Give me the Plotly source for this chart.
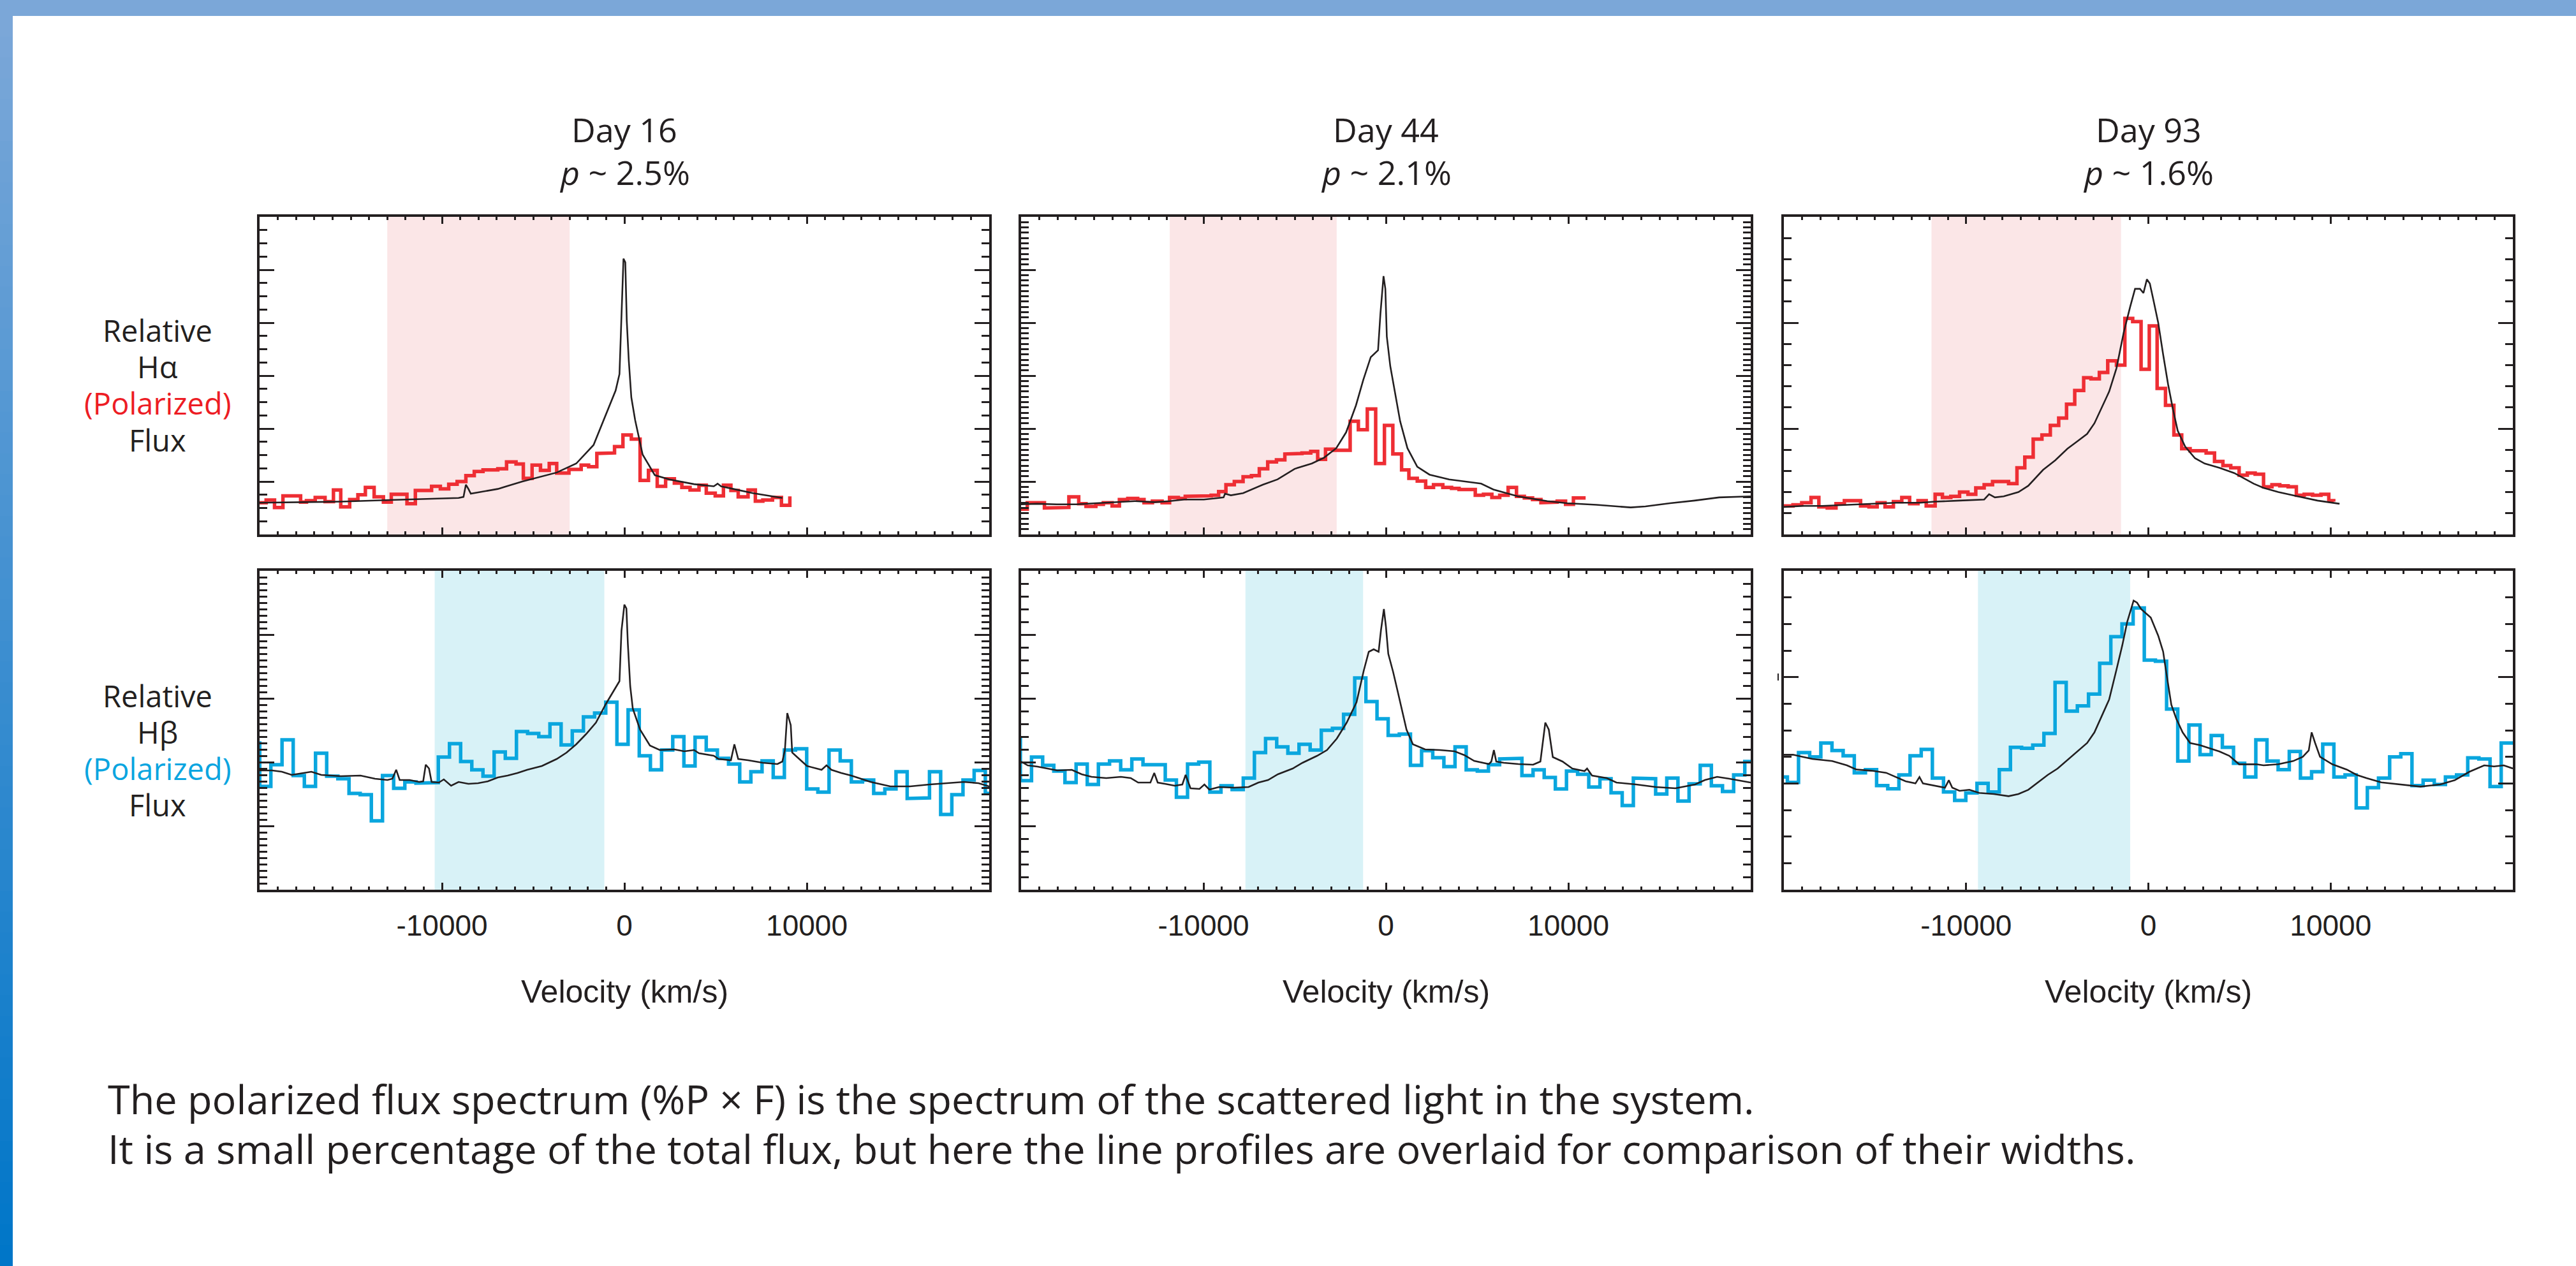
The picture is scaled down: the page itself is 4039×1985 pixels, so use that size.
import plotly.graph_objects as go

W, H = 4039, 1985


def px(x):
    return x / W


def py(y):
    return 1 - y / H


# =========================== DATA ===========================
day_labels = ["Day 16", "Day 44", "Day 93"]
pol_labels = ["2.5%", "2.1%", "1.6%"]
x_tickvals = [-20000, -10000, 0, 10000, 20000]
x_ticktext = ["", "-10000", "0", "10000", ""]

# shaded velocity windows (km/s)
ha_window = [(-13000, -3000), (-11850, -2700), (-11900, -1500)]
hb_window = [(-10400, -1100), (-7700, -1250), (-9350, -1000)]

# ---- Day 16, H-alpha total flux (black) ----
ha1_v = [-20000, -15550, -12860, -9090, -8820, -8690, -8550, -8420, -6940, -5600, -3710, -2640, -1690,
         -1020, -480, -270, -160, -50, 50, 130, 240, 380, 590, 1000, 1670, 2470, 3820, 4900, 5110,
         5300, 5970, 7050, 8660]
ha1_f = [0.60, 0.62, 0.65, 0.69, 0.71, 0.94, 0.86, 0.77, 0.86, 1.00, 1.17, 1.34, 1.69, 2.25, 2.72,
         3.03, 4.02, 5.21, 5.14, 4.04, 3.29, 2.59, 2.16, 1.51, 1.12, 1.04, 0.95, 0.91, 0.96, 0.91,
         0.86, 0.78, 0.69]
# ---- Day 16, H-alpha polarized flux (red, binned) ----
ha1_edges = [-20000, -19640, -19180, -18720, -17750, -17430, -16950, -16410, -15950, -15550, -15060,
             -14610, -14200, -13720, -13210, -12780, -11920, -11460, -10570, -10090, -9630, -9170,
             -8690, -8230, -7750, -6940, -6460, -5940, -5540, -5060, -4600, -4120, -3710, -3040,
             -2370, -1960, -1510, -1020, -540, -80, 380, 860, 1320, 1800, 2260, 2740, 3150, 3600,
             4090, 4490, 4980, 5430, 5840, 6240, 6780, 7180, 7590, 8120, 8610, 9070]
ha1_p = [0.60, 0.65, 0.51, 0.73, 0.61, 0.64, 0.70, 0.62, 0.84, 0.52, 0.66, 0.75, 0.89, 0.71, 0.61,
         0.76, 0.58, 0.83, 0.91, 0.86, 0.95, 1.00, 1.11, 1.19, 1.22, 1.24, 1.37, 1.33, 1.06, 1.31,
         1.21, 1.34, 1.16, 1.23, 1.31, 1.28, 1.53, 1.54, 1.66, 1.88, 1.80, 1.02, 1.21, 0.91, 1.05,
         0.97, 0.89, 0.84, 0.93, 0.78, 0.73, 0.93, 0.83, 0.71, 0.84, 0.63, 0.65, 0.70, 0.55]
ha1_pend = 0.72

# ---- Day 44, H-alpha ----
ha2_v = [-20000, -19130, -18050, -16970, -15900, -14820, -13750, -12670, -11860, -11060, -9980, -9170,
         -8900, -8820, -8500, -7830, -6750, -5940, -5000, -4060, -3390, -2720, -2180, -1640, -1240,
         -830, -430, -300, -130, -30, 50, 240, 510, 780, 1180, 1720, 2390, 3470, 4550, 5220, 5890,
         7240, 8850, 9930, 11540, 13420, 14230, 15580, 16920, 18270, 20000]
ha2_f = [0.57, 0.58, 0.57, 0.57, 0.59, 0.61, 0.63, 0.61, 0.63, 0.66, 0.66, 0.69, 0.70, 0.77, 0.74,
         0.78, 0.94, 1.04, 1.24, 1.34, 1.45, 1.63, 1.93, 2.44, 2.92, 3.35, 3.48, 4.17, 4.88, 4.64,
         3.74, 3.18, 2.66, 2.14, 1.63, 1.28, 1.13, 1.04, 0.99, 0.96, 0.85, 0.72, 0.63, 0.59, 0.56,
         0.51, 0.53, 0.59, 0.64, 0.70, 0.72]
ha2_edges = [-20000, -19660, -18720, -18180, -17380, -16840, -16440, -15900, -15490, -15010, -14610,
             -14150, -13610, -13260, -12800, -12270, -11860, -11380, -11000, -10520, -9580, -9170,
             -8770, -8310, -7830, -7370, -6940, -6480, -6000, -5540, -5060, -4600, -4120, -3740,
             -3310, -2850, -1960, -1510, -1020, -560, -80, 380, 860, 1260, 1720, 2180, 2610, 3120,
             3600, 4010, 4900, 5350, 5810, 6240, 6700, 7160, 7590, 8040, 8500, 8930, 9390, 9850,
             10280, 10950]
ha2_p = [0.48, 0.60, 0.50, 0.51, 0.71, 0.58, 0.53, 0.57, 0.60, 0.54, 0.66, 0.68, 0.66, 0.60, 0.63,
         0.60, 0.70, 0.68, 0.72, 0.73, 0.74, 0.81, 0.94, 1.00, 1.09, 1.11, 1.24, 1.37, 1.41, 1.52,
         1.53, 1.54, 1.57, 1.42, 1.61, 1.59, 2.14, 1.98, 2.37, 1.34, 2.06, 1.52, 1.22, 1.06, 1.01,
         0.89, 0.94, 0.89, 0.87, 0.85, 0.74, 0.76, 0.70, 0.74, 0.89, 0.72, 0.69, 0.66, 0.60, 0.61,
         0.63, 0.57, 0.69]
ha2_pend = 0.69

# ---- Day 93, H-alpha ----
ha3_v = [-20000, -18960, -17890, -16540, -15200, -13850, -12510, -11700, -10360, -9010, -8740, -8420,
         -7940, -7130, -6590, -5780, -5110, -4440, -3900, -3360, -2960, -2560, -2150, -1750, -1350,
         -1000, -730, -460, -270, -80, 80, 270, 540, 810, 1080, 1350, 1610, 2020, 2560, 3090, 3900,
         4710, 5250, 5780, 6320, 7130, 8200, 9280, 10490]
ha3_f = [0.26, 0.27, 0.27, 0.28, 0.29, 0.30, 0.30, 0.31, 0.32, 0.33, 0.38, 0.35, 0.36, 0.40, 0.46,
         0.61, 0.70, 0.81, 0.88, 0.95, 1.05, 1.20, 1.35, 1.57, 1.91, 2.15, 2.32, 2.32, 2.28, 2.41,
         2.37, 2.22, 2.00, 1.70, 1.42, 1.18, 0.98, 0.83, 0.72, 0.67, 0.63, 0.58, 0.53, 0.48, 0.44,
         0.40, 0.36, 0.32, 0.29]
ha3_edges = [-20000, -19500, -19020, -18510, -18080, -17620, -17140, -16680, -16220, -15790, -15330,
             -14880, -14450, -13990, -13530, -13100, -12640, -12190, -11700, -11300, -10840, -10360,
             -9900, -9470, -9010, -8550, -8120, -7670, -7210, -6780, -6320, -5840, -5380, -4920,
             -4490, -4040, -3550, -3150, -2690, -2230, -1750, -1290, -860, -400, 50, 480, 940, 1400,
             1830, 2290, 2740, 3170, 3630, 4090, 4520, 4980, 5430, 5860, 6320, 6780, 7210, 7670,
             8120, 8550, 9010, 9470, 9900, 10170]
ha3_p = [0.27, 0.28, 0.30, 0.35, 0.26, 0.25, 0.29, 0.32, 0.32, 0.27, 0.26, 0.30, 0.26, 0.31, 0.35,
         0.29, 0.32, 0.27, 0.38, 0.35, 0.36, 0.40, 0.38, 0.44, 0.47, 0.50, 0.50, 0.48, 0.63, 0.73,
         0.90, 0.94, 1.03, 1.10, 1.23, 1.36, 1.48, 1.47, 1.53, 1.64, 1.60, 2.04, 2.01, 1.56, 1.97,
         1.38, 1.22, 0.94, 0.81, 0.79, 0.79, 0.77, 0.69, 0.65, 0.63, 0.56, 0.58, 0.57, 0.45, 0.47,
         0.46, 0.45, 0.37, 0.38, 0.37, 0.38, 0.32]
ha3_pend = 0.31

# ---- Day 16, H-beta ----
hb1_v = [-20000, -19310, -18780, -18240, -17160, -16620, -15550, -14470, -13670, -12990, -12720,
         -12510, -12320, -11780, -11250, -11030, -10890, -10710, -10570, -10170, -9900, -9500, -9090,
         -8550, -8020, -7480, -6940, -6400, -5860, -5330, -4520, -3710, -3170, -2640, -2100, -1560,
         -1020, -480, -270, -160, 0, 110, 190, 320, 460, 860, 1400, 1940, 2740, 3280, 3820, 4090,
         4900, 5160, 5840, 6030, 6240, 6780, 7590, 8390, 8660, 8800, 8930, 9120, 9200, 9470, 10010,
         10810, 11080, 11350, 11890, 12430, 13500, 14580, 15660, 16730, 17810, 18610, 19420, 20000]
hb1_f = [1.87, 1.87, 1.85, 1.80, 1.85, 1.80, 1.78, 1.79, 1.74, 1.72, 1.74, 1.88, 1.72, 1.72, 1.69,
         1.70, 1.96, 1.90, 1.69, 1.68, 1.73, 1.63, 1.69, 1.66, 1.67, 1.70, 1.76, 1.79, 1.83, 1.88,
         1.94, 2.05, 2.15, 2.28, 2.44, 2.62, 2.91, 3.18, 3.27, 4.06, 4.47, 4.41, 3.86, 3.19, 2.84,
         2.51, 2.26, 2.19, 2.20, 2.17, 2.19, 2.14, 2.10, 2.05, 2.03, 2.28, 2.05, 2.03, 1.99, 1.97,
         2.01, 2.19, 2.77, 2.58, 2.15, 2.08, 1.94, 1.88, 1.95, 1.88, 1.83, 1.79, 1.69, 1.62, 1.62,
         1.65, 1.67, 1.69, 1.67, 1.62]
hb1_bin0, hb1_binw = -20605, 612
hb1_p = [2.30, 1.62, 1.96, 2.35, 1.79, 1.62, 2.14, 1.78, 1.74, 1.51, 1.49, 1.08, 1.79, 1.59, 1.69,
         1.67, 1.68, 2.08, 2.29, 2.01, 1.88, 1.78, 2.16, 2.06, 2.48, 2.45, 2.40, 2.60, 2.27, 2.49,
         2.71, 2.77, 2.94, 2.28, 2.82, 2.10, 1.88, 2.19, 2.40, 1.94, 2.39, 2.19, 2.06, 1.97, 1.69,
         1.85, 2.02, 1.76, 2.19, 2.21, 1.58, 1.53, 2.19, 2.02, 1.69, 1.72, 1.51, 1.58, 1.85, 1.43,
         1.44, 1.85, 1.18, 1.49, 1.72, 1.87, 1.51]

# ---- Day 44, H-beta ----
hb2_v = [-20000, -19640, -19100, -18560, -18020, -17220, -16680, -16140, -15330, -14530, -13990,
         -13580, -12910, -12700, -12510, -12110, -11570, -11160, -10980, -10710, -10220, -9950,
         -9680, -9150, -8340, -7530, -6990, -6460, -5920, -5110, -4570, -3770, -3230, -2690, -2150,
         -1610, -1210, -940, -670, -400, -270, -110, 0, 130, 400, 670, 890, 1130, 1480, 2150, 2960,
         3770, 4300, 4840, 5650, 5780, 5920, 6050, 6460, 7260, 8070, 8470, 8740, 8930, 9150, 9680,
         10220, 10890, 11030, 11300, 12110, 12640, 13720, 14800, 15870, 16950, 17490, 18160, 18830,
         19370, 20000]
hb2_f = [2.01, 1.95, 1.93, 1.90, 1.87, 1.88, 1.81, 1.77, 1.75, 1.77, 1.75, 1.68, 1.68, 1.83, 1.68,
         1.66, 1.63, 1.65, 1.80, 1.59, 1.58, 1.65, 1.57, 1.61, 1.60, 1.61, 1.68, 1.72, 1.81, 1.90,
         1.99, 2.10, 2.19, 2.37, 2.62, 2.94, 3.44, 3.73, 3.77, 3.73, 4.07, 4.40, 4.13, 3.70, 3.41,
         3.08, 2.80, 2.51, 2.28, 2.20, 2.19, 2.17, 2.11, 2.02, 1.97, 2.01, 2.19, 2.01, 1.99, 1.97,
         1.96, 2.01, 2.62, 2.51, 2.08, 2.01, 1.90, 1.86, 1.90, 1.79, 1.75, 1.68, 1.65, 1.61, 1.59,
         1.65, 1.72, 1.77, 1.74, 1.71, 1.68]
hb2_bin0, hb2_binw = -20650, 611
hb2_p = [2.37, 1.71, 2.08, 1.95, 1.86, 1.68, 1.97, 1.65, 1.97, 2.02, 1.88, 2.05, 1.96, 1.96, 1.72,
         1.45, 1.97, 2.00, 1.53, 1.63, 1.57, 1.75, 2.15, 2.37, 2.24, 2.14, 2.28, 2.19, 2.50, 2.53,
         2.75, 3.32, 2.95, 2.68, 2.42, 2.44, 1.95, 2.18, 2.07, 1.93, 2.24, 1.88, 1.86, 1.96, 2.05,
         2.06, 1.79, 1.88, 1.76, 1.58, 1.86, 1.81, 1.61, 1.74, 1.52, 1.32, 1.75, 1.74, 1.50, 1.75,
         1.39, 1.66, 1.95, 1.63, 1.54, 1.80, 2.01]

# ---- Day 93, H-beta ----
hb3_v = [-20000, -19500, -18960, -18430, -17350, -16540, -16010, -15200, -14390, -13850, -13320,
         -12780, -12560, -12370, -11700, -11160, -10950, -10760, -10360, -9820, -9280, -8470, -7670,
         -7130, -6590, -6050, -5520, -4980, -4440, -3900, -3360, -2960, -2560, -2150, -1750, -1430,
         -1160, -940, -810, -620, -400, -130, 130, 540, 810, 940, 1080, 1260, 1530, 1880, 2290, 2820,
         3360, 3900, 4440, 4980, 5510, 5920, 6320, 7130, 7940, 8470, 8800, 8960, 9150, 9420, 10090,
         10890, 11430, 11970, 12780, 13850, 14930, 16010, 16810, 17620, 18430, 18960, 19500, 20000]
hb3_f = [1.27, 1.27, 1.25, 1.23, 1.21, 1.17, 1.13, 1.12, 1.10, 1.06, 1.02, 1.00, 1.06, 1.00, 0.98,
         0.96, 1.03, 0.96, 0.93, 0.94, 0.91, 0.90, 0.88, 0.90, 0.94, 1.01, 1.08, 1.14, 1.22, 1.30,
         1.38, 1.48, 1.63, 1.79, 2.07, 2.30, 2.52, 2.65, 2.72, 2.70, 2.64, 2.60, 2.56, 2.39, 2.24,
         2.09, 1.94, 1.74, 1.61, 1.48, 1.38, 1.36, 1.33, 1.30, 1.26, 1.18, 1.18, 1.18, 1.17, 1.18,
         1.21, 1.25, 1.31, 1.48, 1.38, 1.25, 1.18, 1.13, 1.08, 1.05, 1.01, 0.99, 0.97, 0.99, 1.03,
         1.11, 1.17, 1.16, 1.17, 1.14]
hb3_bin0, hb3_binw = -20420, 612
hb3_p = [1.06, 1.01, 1.29, 1.25, 1.38, 1.31, 1.26, 1.10, 1.13, 0.98, 0.95, 1.08, 1.26, 1.32, 1.05,
         0.92, 0.84, 0.91, 1.00, 0.92, 1.13, 1.34, 1.33, 1.36, 1.47, 1.95, 1.68, 1.73, 1.84, 2.13,
         2.38, 2.50, 2.65, 2.16, 2.15, 1.70, 1.21, 1.55, 1.27, 1.45, 1.34, 1.19, 1.06, 1.41, 1.21,
         1.13, 1.30, 1.05, 1.11, 1.37, 1.06, 1.08, 0.77, 0.96, 1.05, 1.25, 1.28, 0.98, 1.03, 0.99,
         1.06, 1.08, 1.24, 1.23, 0.97, 1.38, 1.38]

# y-axis extents and minor tick spacing per panel (arbitrary relative units)
ha_ymax = [6, 6, 3]
ha_minor = [0.25, 0.1, 0.2]
hb_ymax = [5, 5, 3]
hb_minor = [0.1, 0.2, 0.25]

# =========================== STYLE ===========================
INK = "#231F20"
RED = "#EE2E34"
BLUE = "#0AA6DE"
PINK = "#FBE6E7"
CYAN = "#D8F2F7"
TXT_RED = "#ED1C24"
TXT_BLUE = "#0AA5E0"
FONT = "Open Sans"
AXFONT = "Liberation Sans, Arial"

# panel pixel boxes
col_px = [(407, 1551), (1601, 2745), (2797, 3940)]
row_px = [(340, 838), (895, 1395)]


def step_xy(edges, vals, end_val=None):
    xs, ys = [], []
    for i, v in enumerate(vals):
        xs += [edges[i], edges[i + 1]]
        ys += [v, v]
    if end_val is not None:
        xs.append(edges[len(vals)])
        ys.append(end_val)
    return xs, ys


def uniform_edges(start, width, n):
    return [start + width * i for i in range(n + 1)]


ha_black = [(ha1_v, ha1_f), (ha2_v, ha2_f), (ha3_v, ha3_f)]
ha_red = [step_xy(ha1_edges, ha1_p, ha1_pend), step_xy(ha2_edges, ha2_p, ha2_pend),
          step_xy(ha3_edges, ha3_p, ha3_pend)]
hb_black = [(hb1_v, hb1_f), (hb2_v, hb2_f), (hb3_v, hb3_f)]
hb_blue = [step_xy(uniform_edges(hb1_bin0, hb1_binw, len(hb1_p)), hb1_p),
           step_xy(uniform_edges(hb2_bin0, hb2_binw, len(hb2_p)), hb2_p),
           step_xy(uniform_edges(hb3_bin0, hb3_binw, len(hb3_p)), hb3_p)]

fig = go.Figure()
layout = {}
shapes = []
annotations = []

for r in range(2):
    for c in range(3):
        idx = r * 3 + c + 1
        xn = "x" if idx == 1 else f"x{idx}"
        yn = "y" if idx == 1 else f"y{idx}"
        xk = "xaxis" if idx == 1 else f"xaxis{idx}"
        yk = "yaxis" if idx == 1 else f"yaxis{idx}"
        x0p, x1p = col_px[c]
        y0p, y1p = row_px[r]
        labels = (r == 1)
        layout[xk] = dict(
            domain=[px(x0p), px(x1p)], anchor=yn, range=[-20000, 20000],
            showgrid=False, zeroline=False, showline=True, linecolor=INK, linewidth=3.5,
            mirror="ticks", ticks="inside", ticklen=11, tickwidth=3, tickcolor=INK,
            tickmode="array", tickvals=x_tickvals, ticktext=x_ticktext,
            showticklabels=labels, ticklabelstandoff=13,
            tickfont=dict(family=AXFONT, size=46, color=INK),
            minor=dict(ticks="inside", ticklen=5, tickwidth=2.5, tickcolor=INK,
                       tickmode="linear", tick0=0, dtick=1000, showgrid=False),
            fixedrange=True)
        ymax = ha_ymax[c] if r == 0 else hb_ymax[c]
        ymin_dt = ha_minor[c] if r == 0 else hb_minor[c]
        layout[yk] = dict(
            domain=[py(y1p), py(y0p)], anchor=xn, range=[0, ymax],
            showgrid=False, zeroline=False, showline=True, linecolor=INK, linewidth=3.5,
            mirror="ticks", ticks="inside", ticklen=23, tickwidth=3, tickcolor=INK,
            tickmode="linear", tick0=0, dtick=1, showticklabels=False,
            minor=dict(ticks="inside", ticklen=12, tickwidth=2.5, tickcolor=INK,
                       tickmode="linear", tick0=0, dtick=ymin_dt, showgrid=False),
            fixedrange=True)

        win = ha_window[c] if r == 0 else hb_window[c]
        shapes.append(dict(type="rect", xref=xn, yref=f"{yn} domain", x0=win[0], x1=win[1],
                           y0=0, y1=1, fillcolor=PINK if r == 0 else CYAN,
                           line=dict(width=0), layer="below"))

        if r == 0:
            sx, sy = ha_red[c]
            col = RED
            bx, by = ha_black[c]
        else:
            sx, sy = hb_blue[c]
            col = BLUE
            bx, by = hb_black[c]
        fig.add_trace(go.Scatter(x=sx, y=sy, mode="lines", xaxis=xn, yaxis=yn,
                                 line=dict(color=col, width=5.5), showlegend=False,
                                 hoverinfo="skip"))
        fig.add_trace(go.Scatter(x=bx, y=by, mode="lines", xaxis=xn, yaxis=yn,
                                 line=dict(color=INK, width=2.6), showlegend=False,
                                 hoverinfo="skip"))

# ---- titles above columns ----
for c in range(3):
    cx = px((col_px[c][0] + col_px[c][1]) / 2)
    annotations.append(dict(text=day_labels[c], x=cx, y=py(203), xref="paper", yref="paper",
                            xanchor="center", yanchor="middle", showarrow=False,
                            font=dict(family=FONT, size=52, color=INK)))
    annotations.append(dict(text=f"<i>p</i> ~ {pol_labels[c]}", x=cx, y=py(269), xref="paper",
                            yref="paper", xanchor="center", yanchor="middle", showarrow=False,
                            font=dict(family=FONT, size=52, color=INK)))
    annotations.append(dict(text="Velocity (km/s)", x=cx, y=py(1555), xref="paper", yref="paper",
                            xanchor="center", yanchor="middle", showarrow=False,
                            font=dict(family=AXFONT, size=50, color=INK)))

# ---- row labels ----
row_lines = [
    [("Relative", INK), ("Hα", INK), ("(Polarized)", TXT_RED), ("Flux", INK)],
    [("Relative", INK), ("Hβ", INK), ("(Polarized)", TXT_BLUE), ("Flux", INK)],
]
row_centers = [[518, 575, 632, 690], [1091, 1148, 1205, 1262]]
for r in range(2):
    for (t, colr), yc in zip(row_lines[r], row_centers[r]):
        annotations.append(dict(text=t, x=px(247), y=py(yc), xref="paper", yref="paper",
                                xanchor="center", yanchor="middle", showarrow=False,
                                font=dict(family=FONT, size=47, color=colr)))

# ---- caption ----
caption = [
    "The polarized flux spectrum (%P × F) is the spectrum of the scattered light in the system.",
    "It is a small percentage of the total flux, but here the line profiles are overlaid for comparison of their widths.",
]
for line, yc in zip(caption, [1722, 1800]):
    annotations.append(dict(text=line, x=px(167), y=py(yc), xref="paper", yref="paper",
                            xanchor="left", yanchor="middle", showarrow=False,
                            font=dict(family=FONT, size=63, color=INK)))

# ---- slide decorations: top bar + gradient left strip ----
shapes.append(dict(type="rect", xref="paper", yref="paper", x0=0, x1=1, y0=py(25), y1=1,
                   fillcolor="#7BA7D8", line=dict(width=0), layer="below"))
c_top = (123, 167, 216)
c_bot = (0, 118, 200)
nband = 60
for i in range(nband):
    t = i / (nband - 1)
    rgb = tuple(int(round(a + (b - a) * t)) for a, b in zip(c_top, c_bot))
    ya = 25 + (H - 25) * i / nband
    yb = 25 + (H - 25) * (i + 1) / nband
    shapes.append(dict(type="rect", xref="paper", yref="paper", x0=0, x1=px(20),
                       y0=py(yb + 1), y1=py(ya), fillcolor="rgb(%d,%d,%d)" % rgb,
                       line=dict(width=0), layer="below"))

# small stray tick mark left of the Day 93 H-beta frame (as in the original figure)
shapes.append(dict(type="line", xref="paper", yref="paper", x0=px(2788), x1=px(2788),
                   y0=py(1067), y1=py(1056), line=dict(color=INK, width=2)))

fig.update_layout(
    width=W, height=H, margin=dict(l=0, r=0, t=0, b=0, pad=0),
    paper_bgcolor="white", plot_bgcolor="white",
    shapes=shapes, annotations=annotations, showlegend=False,
    **layout)

fig.write_html("out.html", config={"displayModeBar": False},
               post_script="document.body.style.margin='0';document.body.style.overflow='hidden';")
